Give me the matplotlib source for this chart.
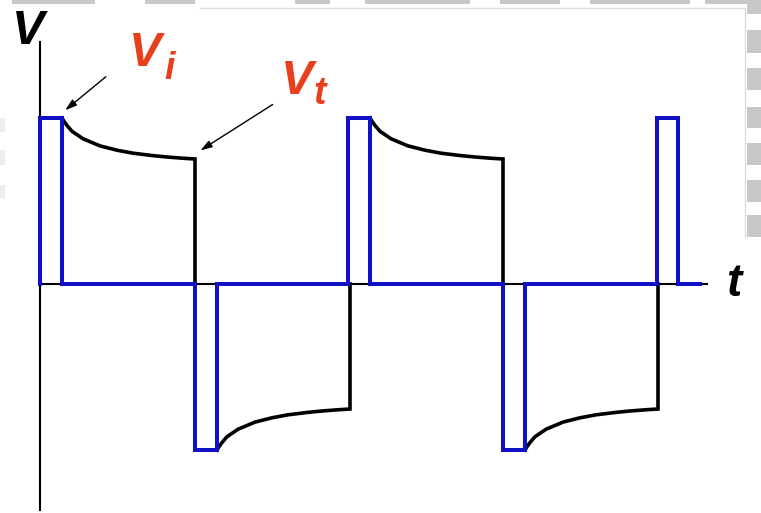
import matplotlib
matplotlib.use("Agg")
import matplotlib.pyplot as plt
from matplotlib.patches import Rectangle

# ---- data (time in arbitrary units, voltage normalised to pulse height) ----
# blue driving pulse train (step vertices)
blue_t = [0, 0, 22, 22, 155, 155, 177, 177, 308, 308, 330, 330,
          463, 463, 485, 485, 617, 617, 638, 638, 660]
blue_v = [0, 1, 1, 0, 0, -1, -1, 0, 0, 1, 1, 0,
          0, -1, -1, 0, 0, 1, 1, 0, 0]

# black decaying response: segment starts, sign, and sampled decay shape
seg_start = [22, 177, 330, 485]
seg_sign = [1, -1, 1, -1]
decay_dt = [0, 2, 5, 10, 21, 38, 55, 71, 90, 105, 120, 133]
decay_v = [1.0, 0.98, 0.955, 0.92, 0.875, 0.832, 0.806, 0.788, 0.774, 0.765, 0.758, 0.753]

axis_t_end = 667
axis_v_top = 1.458
axis_v_bot = -1.361

BLUE = "#1010C4"
RED = "#E8401C"

fig = plt.figure(figsize=(7.61, 5.13), dpi=100)

# pixel-space background axes for decorations and labels
axp = fig.add_axes([0, 0, 1, 1], zorder=0)
axp.set_xlim(0, 761)
axp.set_ylim(513, 0)
axp.axis("off")

grey = "#C8C8C8"
# top strip pieces
for x0, x1 in [(12, 95), (145, 195), (295, 330), (365, 470), (500, 560), (590, 690), (705, 748)]:
    axp.add_patch(Rectangle((x0, 0), x1 - x0, 4, color=grey, lw=0))
# right-edge dashes
for y0, y1 in [(0, 14), (30, 53), (68, 90), (107, 128), (143, 165), (180, 202), (215, 237)]:
    axp.add_patch(Rectangle((747, y0), 14, y1 - y0, color=grey, lw=0))
# left-edge faint dashes
for y0, y1 in [(118, 132), (150, 165), (185, 198)]:
    axp.add_patch(Rectangle((0, y0), 5, y1 - y0, color="#EDEDED", lw=0))
axp.plot([200, 745, 745], [8, 8, 237], color="#DDDDDD", lw=1)

# main data axes
ax = fig.add_axes([0, 0, 1, 1], zorder=1)
ax.patch.set_alpha(0)
ax.set_xlim(-40, 721)
ax.set_ylim((284 - 513) / 166, 284 / 166)
ax.axis("off")

# coordinate axes
ax.plot([0, 0], [axis_v_bot, axis_v_top], color="black", lw=1.5, zorder=2)
ax.plot([0, axis_t_end], [0, 0], color="black", lw=1.5, zorder=2)

# black response curves
for s, sg in zip(seg_start, seg_sign):
    tt = [s + d for d in decay_dt]
    vv = [sg * v for v in decay_v]
    tt.append(tt[-1])
    vv.append(0)
    ax.plot(tt, vv, color="black", lw=2.6, solid_joinstyle="miter", zorder=3)

# blue pulses
ax.plot(blue_t, blue_v, color=BLUE, lw=2.9, solid_joinstyle="miter", zorder=4)

# labels
fam = "Liberation Sans"
axp.text(28, 44, "V", fontsize=35, fontweight="bold", style="italic",
         family=fam, ha="center", va="baseline", color="black")
axp.text(734, 296, "t", fontsize=33, fontweight="bold", style="italic",
         family=fam, ha="center", va="baseline", color="black")
axp.text(145, 66, "V", fontsize=35, fontweight="bold", style="italic",
         family=fam, ha="center", va="baseline", color=RED)
axp.text(164, 79, "i", fontsize=27, fontweight="bold", style="italic",
         family=fam, ha="left", va="baseline", color=RED)
axp.text(297, 94, "V", fontsize=35, fontweight="bold", style="italic",
         family=fam, ha="center", va="baseline", color=RED)
axp.text(313, 104, "t", fontsize=27, fontweight="bold", style="italic",
         family=fam, ha="left", va="baseline", color=RED)

# arrows
arrow_kw = dict(arrowstyle="-|>,head_length=0.7,head_width=0.22", color="black", lw=1.0)
axp.annotate("", xy=(63, 112), xytext=(108, 75), arrowprops=arrow_kw, zorder=5)
axp.annotate("", xy=(198, 152), xytext=(275, 103), arrowprops=arrow_kw, zorder=5)

fig.savefig("out.png", dpi=100)
